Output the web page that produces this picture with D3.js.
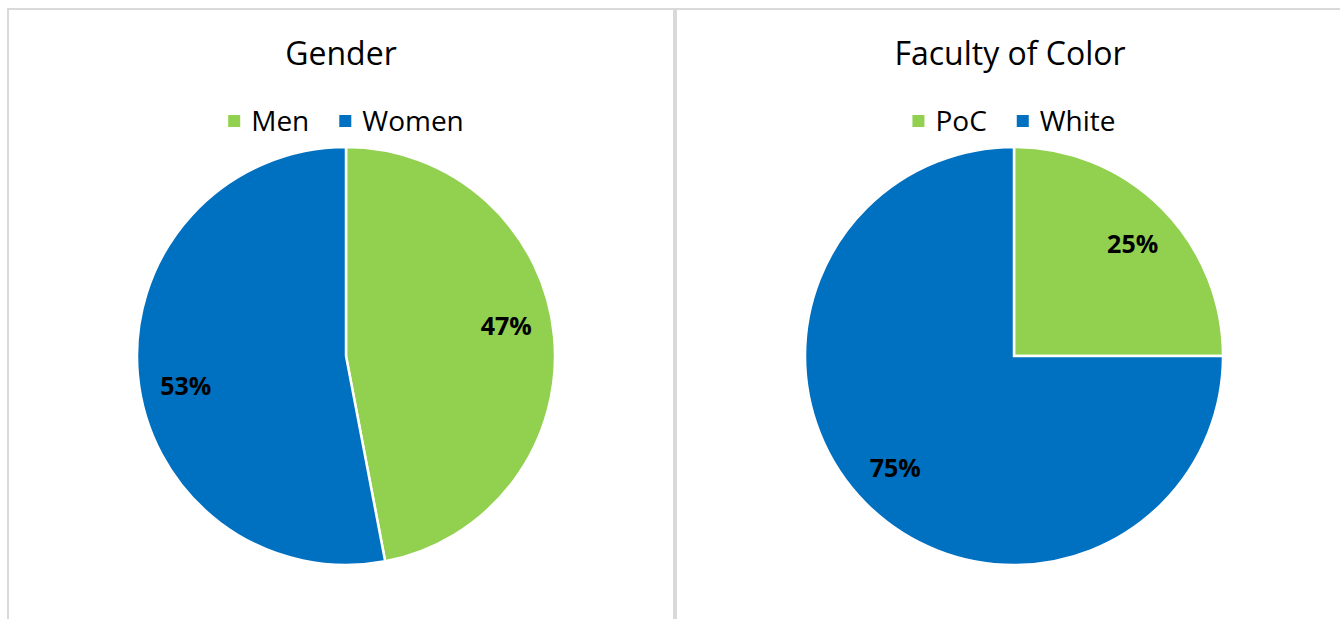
<!DOCTYPE html>
<head>
    <meta charset="utf-8">
    <script src="https://d3js.org/d3.v7.min.js"></script>
    <style>
        body { margin:0; background:#fff; }
        .panel { fill: none; stroke: #d9d9d9; stroke-width: 2; }
        .title { font-family: 'Open Sans', sans-serif; font-size: 32px; fill: #000; }
        .legend-text { font-family: 'Open Sans', sans-serif; font-size: 28px; fill: #000; }
        .slice { stroke: #fff; stroke-width: 2.5; }
        .pct { font-family: 'Open Sans', sans-serif; font-size: 25px; font-weight: bold; fill: #000; }
    </style>
</head>

<body>
  <script>
    const genderLabels = ['Men', 'Women'];
    const genderValues = [47, 53];
    const colorLabels = ['PoC', 'White'];
    const colorValues = [25, 75];
    const sliceColors = ['#92d050', '#0070c0'];

    const width = 1340;
    const height = 619;
    const radius = 209;

    const charts = [
        {title: 'Gender', labels: genderLabels, values: genderValues,
         panel: [8, 674], cx: 346, labelTurn: -0.09},
        {title: 'Faculty of Color', labels: colorLabels, values: colorValues,
         panel: [676, 1344], cx: 1014, labelTurn: 0.03}
    ];

    const svg = d3.select('body').append('svg')
        .attr('width', width)
        .attr('height', height);

    const pie = d3.pie().sort(null).value(d => d.value);
    const arc = d3.arc().innerRadius(0).outerRadius(radius);

    charts.forEach(drawChart);

    function drawChart(c) {
        const g = svg.append('g');

        g.append('rect')
            .attr('class', 'panel')
            .attr('x', c.panel[0])
            .attr('y', 9)
            .attr('width', c.panel[1] - c.panel[0])
            .attr('height', height + 20);

        g.append('text')
            .attr('class', 'title')
            .attr('x', (c.panel[0] + c.panel[1]) / 2)
            .attr('y', 65)
            .attr('text-anchor', 'middle')
            .text(c.title);

        // legend, centred above the pie
        const legend = g.append('g');
        let x = 0;
        c.labels.forEach((name, i) => {
            const item = legend.append('g').attr('transform', `translate(${x},0)`);
            item.append('rect')
                .attr('x', 0).attr('y', -6)
                .attr('width', 12).attr('height', 12)
                .attr('fill', sliceColors[i]);
            const t = item.append('text')
                .attr('class', 'legend-text')
                .attr('x', 23)
                .attr('dy', '0.35em')
                .text(name);
            x += 23 + t.node().getComputedTextLength() + 30;
        });
        const legendWidth = x - 30;
        legend.attr('transform', `translate(${c.cx - legendWidth / 2},121)`);

        const data = c.labels.map((name, i) => ({name, value: c.values[i]}));
        const total = d3.sum(c.values);

        const pieG = g.append('g')
            .attr('transform', `translate(${c.cx},356)`);

        const arcs = pie(data);

        pieG.selectAll('.slice')
            .data(arcs)
            .enter().append('path')
            .attr('class', 'slice')
            .attr('fill', (d, i) => sliceColors[i])
            .attr('d', arc);

        const labelR = radius * 0.78;
        pieG.selectAll('.pct')
            .data(arcs)
            .enter().append('text')
            .attr('class', 'pct')
            .attr('text-anchor', 'middle')
            .attr('dy', '0.35em')
            .attr('x', d => labelR * Math.sin((d.startAngle + d.endAngle) / 2 + c.labelTurn))
            .attr('y', d => -labelR * Math.cos((d.startAngle + d.endAngle) / 2 + c.labelTurn))
            .text(d => `${Math.round(d.data.value / total * 100)}%`);
    }
  </script>
</body>
